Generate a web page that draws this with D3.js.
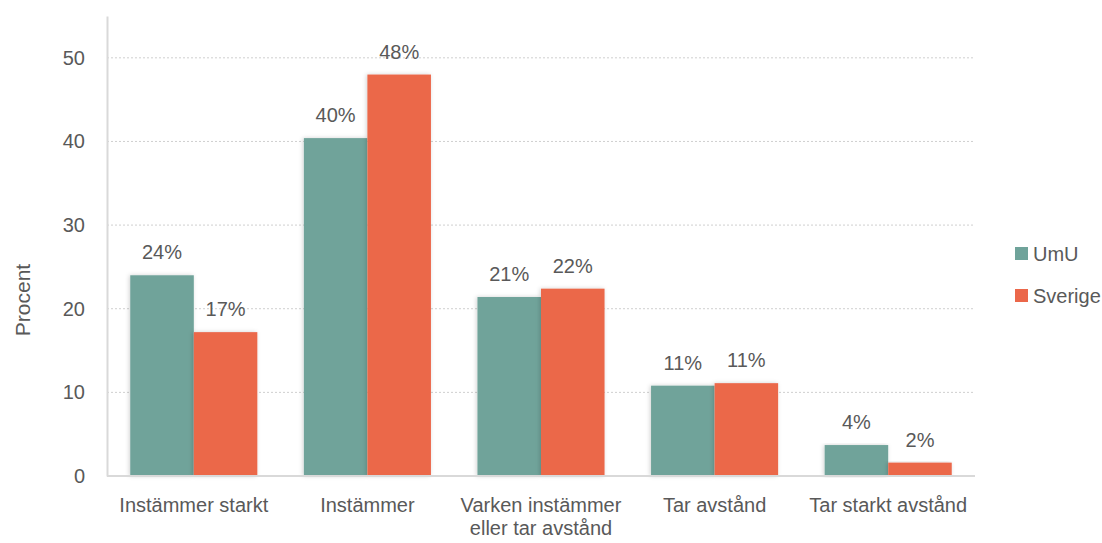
<!DOCTYPE html>
<html><head><meta charset="utf-8">
<script src="https://cdn.jsdelivr.net/npm/d3@7"></script>
<style>body{margin:0;background:#fff}text{font-family:"Liberation Sans",Arial,sans-serif;fill:#595959}</style>
</head><body><svg id="c" width="1102" height="543"></svg>
<script>
const categories = [["Instämmer starkt"],["Instämmer"],["Varken instämmer","eller tar avstånd"],["Tar avstånd"],["Tar starkt avstånd"]];
const seriesNames = ["UmU","Sverige"];
const umu = [24.0, 40.4, 21.4, 10.8, 3.7];
const sverige = [17.2, 48.0, 22.4, 11.1, 1.6];
const yTicks = [0,10,20,30,40,50];
const colors = ["#6fa39a","#eb674a"];

const svg = d3.select("#c");
const m = {l:107, r:975, t:16, b:476};
const x = d3.scaleBand().domain(d3.range(categories.length)).range([m.l, m.r]).paddingInner(0.268).paddingOuter(0.134);
const x1 = d3.scaleBand().domain(seriesNames).range([0, x.bandwidth()]);
const y = d3.scaleLinear().domain([0,55]).range([m.b, m.t]);

const defs = svg.append("defs");
const f = defs.append("filter").attr("id","sh").attr("x","-20%").attr("y","-5%").attr("width","140%").attr("height","110%");
f.append("feDropShadow").attr("dx",-1).attr("dy",0).attr("stdDeviation",2).attr("flood-color","#000").attr("flood-opacity",0.18);

// gridlines
svg.append("g").selectAll("line").data(yTicks.filter(d=>d>0)).join("line")
  .attr("x1",m.l).attr("x2",m.r).attr("y1",d=>y(d)).attr("y2",d=>y(d))
  .attr("stroke","#cfcfcf").attr("stroke-width",1).attr("stroke-dasharray","2,2");

// y axis
const ya = svg.append("g").attr("transform",`translate(${m.l},0)`)
  .call(d3.axisLeft(y).tickValues(yTicks).tickSize(0).tickPadding(22));
ya.select(".domain").attr("stroke","#d9d9d9").attr("stroke-width",2);
ya.selectAll("text").attr("font-size",20).style("fill","#595959").attr("font-family","Liberation Sans, Arial, sans-serif");

// bars
const data = [umu, sverige];
seriesNames.forEach((s,si)=>{
  const g = svg.append("g");
  g.selectAll("rect").data(data[si]).join("rect")
    .attr("x",(d,i)=>x(i)+x1(s)).attr("width",x1.bandwidth())
    .attr("y",d=>y(d)).attr("height",d=>y(0)-y(d))
    .attr("fill",colors[si]).attr("filter","url(#sh)");
  g.selectAll("text").data(data[si]).join("text")
    .attr("x",(d,i)=>x(i)+x1(s)+x1.bandwidth()/2).attr("y",d=>y(d)-16)
    .attr("text-anchor","middle").attr("font-size",20).text(d=>Math.round(d)+"%");
});

// x axis baseline
svg.append("line").attr("x1",m.l).attr("x2",m.r).attr("y1",y(0)).attr("y2",y(0)).attr("stroke","#d9d9d9").attr("stroke-width",2);

// x labels
const xl = svg.append("g");
categories.forEach((lines,i)=>{
  const t = xl.append("text").attr("x",x(i)+x.bandwidth()/2).attr("y",512).attr("text-anchor","middle").attr("font-size",20);
  lines.forEach((ln,j)=>t.append("tspan").attr("x",x(i)+x.bandwidth()/2).attr("dy",j?23:0).text(ln));
});

// y title
svg.append("text").attr("transform","translate(30,300) rotate(-90)").attr("text-anchor","middle").attr("font-size",21).text("Procent");

// legend
seriesNames.forEach((s,i)=>{
  const g = svg.append("g").attr("transform",`translate(1015,${247+i*42})`);
  g.append("rect").attr("width",13).attr("height",13).attr("fill",colors[i]);
  g.append("text").attr("x",18).attr("y",14).attr("font-size",20).text(s);
});
</script></body></html>
